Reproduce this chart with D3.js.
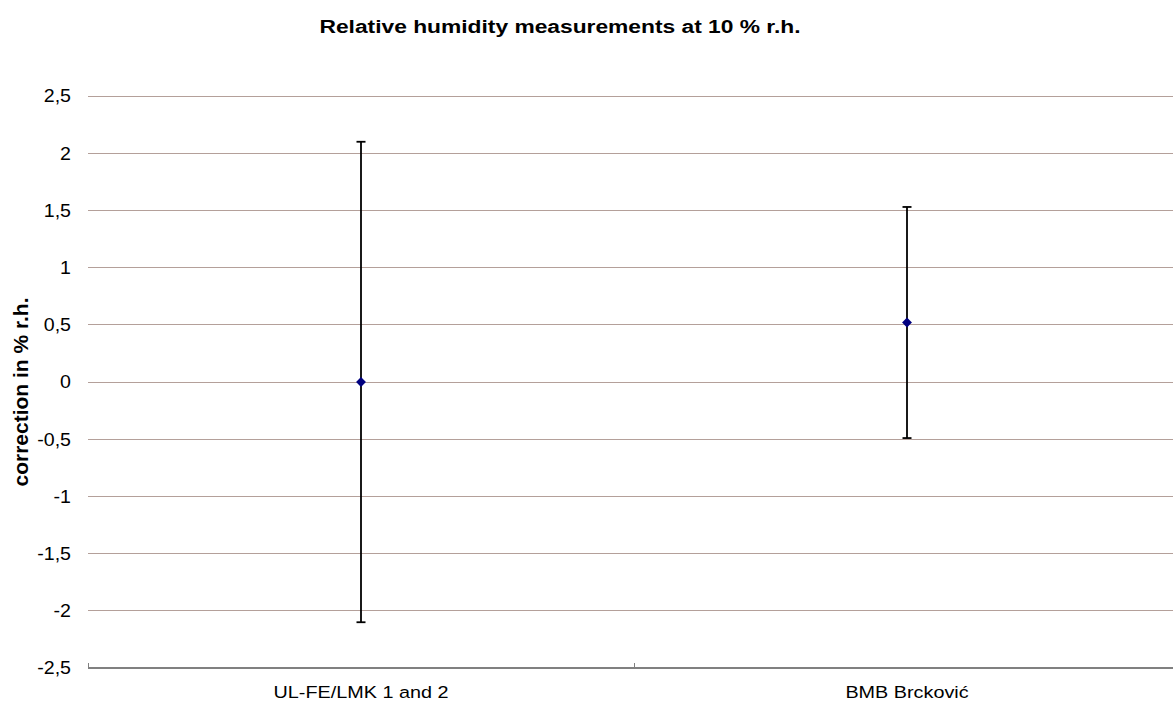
<!DOCTYPE html>
<html><head><meta charset="utf-8">
<script src="https://cdn.jsdelivr.net/npm/d3@7"></script>
<style>body{margin:0;background:#fff;}svg{display:block;font-family:"Liberation Sans",Arial,sans-serif;}</style>
</head><body>
<script>
const categories = ["UL-FE/LMK 1 and 2", "BMB Brcković"];
const values = [0, 0.52];
const errLow = [2.1, 1.01];
const errHigh = [2.1, 1.01];
const yTicks = [-2.5, -2, -1.5, -1, -0.5, 0, 0.5, 1, 1.5, 2, 2.5];

const W = 1173, H = 705;
const svg = d3.select("body").append("svg").attr("width", W).attr("height", H);
const x = d3.scaleBand().domain(categories).range([88, 1180]);
const y = d3.scaleLinear().domain([-2.5, 2.5]).range([668, 96]);
const fmt = d => String(d).replace(".", ",");

// gridlines
svg.append("g").selectAll("line").data(yTicks.filter(d => d > -2.5)).join("line")
  .attr("x1", 88).attr("x2", 1180).attr("y1", d => y(d)).attr("y2", d => y(d))
  .attr("stroke", "#b4a09a").attr("stroke-width", 1).attr("shape-rendering", "crispEdges");

// y tick labels (horizontally stretched like reference)
svg.append("g").selectAll("text").data(yTicks).join("text")
  .attr("transform", d => `translate(71,${y(d)}) scale(1.12,1)`).attr("dy", "0.36em").attr("text-anchor", "end")
  .attr("font-size", 17.5).attr("fill", "#000").text(fmt);

// x axis
svg.append("line").attr("x1", 88).attr("x2", 1180).attr("y1", y(-2.5)).attr("y2", y(-2.5))
  .attr("stroke", "#808080").attr("stroke-width", 1.3).attr("shape-rendering", "crispEdges");
const bounds = [88, x.step() + 88, 1180];
svg.append("g").selectAll("line").data(bounds).join("line")
  .attr("x1", d => d).attr("x2", d => d).attr("y1", y(-2.5)).attr("y2", y(-2.5) - 5)
  .attr("stroke", "#808080").attr("shape-rendering", "crispEdges");
svg.append("g").selectAll("text").data(categories).join("text")
  .attr("transform", d => `translate(${x(d) + x.bandwidth() / 2},698) scale(1.2,1)`).attr("text-anchor", "middle")
  .attr("font-size", 16.5).attr("fill", "#000").text(d => d);

// error bars
const eb = svg.append("g");
categories.forEach((c, i) => {
  const cx = x(c) + x.bandwidth() / 2;
  const t = y(values[i] + errHigh[i]), b = y(values[i] - errLow[i]);
  eb.append("line").attr("x1", cx).attr("x2", cx).attr("y1", t).attr("y2", b).attr("stroke", "#000").attr("stroke-width", 1.8);
  [t, b].forEach(yy => eb.append("line").attr("x1", cx - 4.5).attr("x2", cx + 4.5).attr("y1", yy).attr("y2", yy).attr("stroke", "#000").attr("stroke-width", 1.8));
});

// markers
svg.append("g").selectAll("path").data(categories).join("path")
  .attr("d", d3.symbol().type(d3.symbolDiamond2).size(62))
  .attr("transform", (d, i) => `translate(${x(d) + x.bandwidth() / 2},${y(values[i])})`)
  .attr("fill", "#000080");

// title
svg.append("text").attr("transform", "translate(560,33) scale(1.2,1)").attr("text-anchor", "middle")
  .attr("font-size", 19).attr("font-weight", "bold").text("Relative humidity measurements at 10 % r.h.");

// y label
svg.append("text").attr("transform", `translate(28,392) rotate(-90)`).attr("text-anchor", "middle")
  .attr("font-size", 21).attr("font-weight", "bold").text("correction in % r.h.");
</script>
</body></html>
